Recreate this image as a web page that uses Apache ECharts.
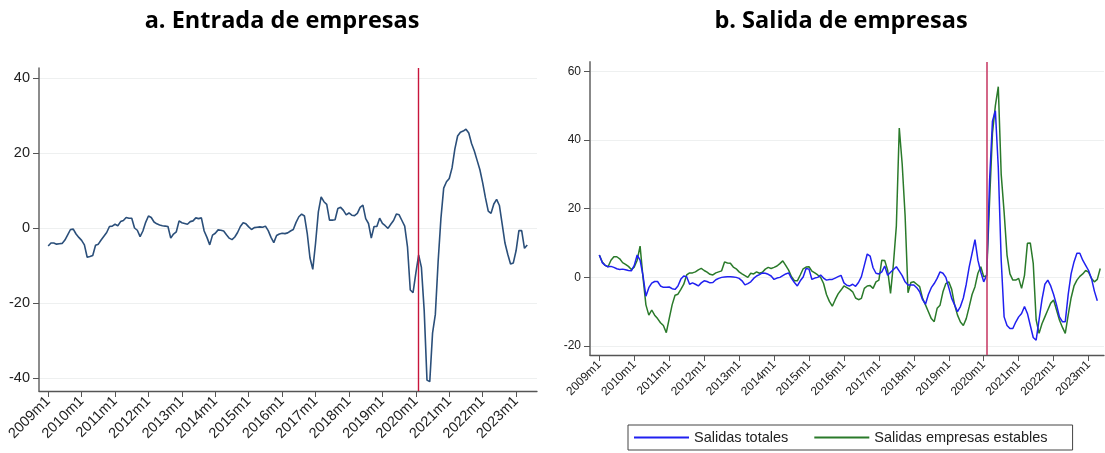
<!DOCTYPE html>
<html>
<head>
<meta charset="utf-8">
<script src="https://cdn.jsdelivr.net/npm/echarts@6/dist/echarts.min.js"></script>
<style>
  html, body { margin: 0; padding: 0; background: #fff; }
  #chart { width: 1105px; height: 453px; }
</style>
</head>
<body>
<div id="chart"></div>
<script>
// monthly series, index 0 = 2009m1
var entrada = [
  -4.8,-4.0,-4.0,-4.3,-4.2,-4.1,-3.2,-1.8,-0.4,-0.3,-1.6,-2.5,
  -3.3,-4.5,-7.8,-7.6,-7.3,-4.6,-4.3,-3.2,-2.2,-1.2,0.4,0.5,
  1.0,0.6,1.7,2.0,2.8,2.6,2.6,0.0,-0.6,-2.3,-0.8,1.5,
  3.2,2.8,1.6,1.1,0.8,0.6,0.5,0.4,-2.7,-1.6,-1.0,1.9,
  1.4,1.2,1.0,1.7,1.9,2.7,2.5,2.7,-0.8,-2.5,-4.5,-1.9,
  -1.4,-0.5,-0.6,-0.8,-1.8,-2.7,-3.1,-2.4,-1.2,0.4,1.4,1.1,
  0.3,-0.4,0.1,0.2,0.3,0.2,0.5,-0.7,-2.5,-3.9,-2.0,-1.6,
  -1.4,-1.5,-1.3,-0.8,-0.4,1.5,3.0,3.7,3.2,-1.4,-8.0,-11.0,
  -4.0,4.3,8.3,7.0,6.3,2.1,2.1,2.2,5.2,5.5,4.7,3.5,
  4.0,3.4,3.3,3.9,5.5,6.1,2.5,1.2,-2.7,0.4,0.4,2.6,
  1.2,0.6,-0.1,1.0,2.0,3.7,3.5,2.0,0.5,-5.0,-16.5,-17.2,
  -12.0,-7.2,-10.5,-22.0,-40.5,-40.9,-28.0,-23.0,-9.0,2.5,10.6,12.3,
  13.2,16.0,21.0,24.5,25.5,25.8,26.3,25.3,22.5,20.5,18.0,15.5,
  12.0,8.0,4.5,3.9,6.4,7.6,6.0,1.0,-4.0,-7.0,-9.6,-9.3,
  -6.0,-0.7,-0.7,-5.4,-4.5
];

var salidasTotales = [
  6.5,4.3,3.5,3.1,3.2,2.9,2.5,2.3,2.4,2.2,2.0,1.9,
  3.5,6.5,5.0,0.5,-5.5,-3.0,-1.7,-1.2,-1.2,-2.5,-2.9,-2.9,
  -2.8,-3.3,-3.5,-2.5,-0.5,0.4,0.2,-2.0,-1.6,-2.0,-2.5,-1.6,
  -1.0,-1.2,-1.6,-1.5,-0.7,-0.3,0.0,0.1,0.2,0.2,0.1,0.0,
  -0.3,-1.0,-2.2,-1.8,-1.3,-0.3,0.4,0.8,1.3,1.2,0.9,0.4,
  -0.6,-0.2,0.0,0.5,1.0,1.3,-0.3,-1.5,-2.5,-1.0,0.1,2.6,
  2.4,-0.6,-0.2,0.0,0.7,-0.2,-0.8,-0.6,-0.6,-0.2,0.2,0.6,
  -1.6,-2.3,-2.5,-2.0,-2.6,-1.5,0.2,3.5,6.8,6.2,2.8,1.2,
  1.0,1.6,3.3,0.6,1.5,2.3,3.1,1.8,0.5,-1.3,-2.2,-2.2,
  -2.2,-3.0,-4.2,-6.5,-7.8,-5.0,-3.0,-1.8,-0.3,1.6,1.2,0.0,
  -3.0,-6.1,-8.0,-10.0,-8.5,-6.0,-2.0,3.0,7.0,11.0,5.0,1.5,
  -1.3,0.6,28.0,45.5,48.5,32.0,5.0,-11.5,-14.0,-14.9,-14.9,-13.0,
  -11.5,-10.5,-8.5,-10.5,-14.0,-17.5,-18.3,-12.4,-6.5,-2.0,-0.8,-2.5,
  -5.0,-8.0,-11.5,-12.9,-12.9,-5.0,1.0,4.5,7.0,7.0,5.0,3.5,
  2.0,-0.3,-4.0,-6.8
];

var salidasEstables = [
  6.5,4.5,3.5,3.1,5.0,6.0,6.0,5.4,4.3,3.8,3.2,2.3,
  3.0,5.0,9.1,0.0,-8.0,-11.0,-9.5,-11.0,-12.0,-13.2,-14.0,-16.1,
  -12.0,-8.0,-5.2,-4.9,-3.5,-2.0,0.7,1.3,1.3,1.6,2.2,2.6,
  2.0,1.5,0.9,0.7,1.3,1.6,1.9,4.5,4.2,4.1,3.0,2.5,
  1.6,1.0,0.5,0.0,1.2,1.0,1.6,1.2,1.5,2.4,2.9,2.6,
  2.9,3.3,4.0,4.8,3.5,2.1,0.2,-1.0,-1.0,0.7,2.5,3.0,
  3.1,1.8,1.3,0.7,0.0,-1.8,-5.0,-7.0,-8.4,-6.5,-4.8,-3.7,
  -2.5,-3.0,-3.5,-4.2,-6.0,-6.5,-6.1,-3.2,-2.5,-2.4,-3.2,-1.3,
  -0.8,5.0,4.9,2.1,-4.7,4.0,15.0,43.5,33.0,18.0,-4.5,-1.5,
  -1.3,-2.0,-2.7,-6.1,-8.0,-10.0,-12.0,-12.9,-9.0,-8.1,-4.2,-1.8,
  -1.3,-3.5,-8.0,-11.0,-13.0,-14.0,-12.0,-8.6,-5.0,-2.7,1.2,3.1,
  0.2,0.5,22.0,42.0,50.0,55.5,30.0,19.0,6.5,1.0,-0.8,-0.8,
  -0.3,-3.2,0.6,9.9,10.0,4.1,-12.4,-16.3,-13.5,-11.5,-9.5,-7.5,
  -6.6,-9.5,-12.4,-14.5,-16.3,-11.0,-6.0,-2.5,-0.8,0.3,1.0,2.0,
  1.5,-0.3,-1.3,-0.6,2.6
];

var yearTicks = [0, 12, 24, 36, 48, 60, 72, 84, 96, 108, 120, 132, 144, 156, 168];
var ticksA = [-40, -20, 0, 20, 40];
var ticksB = [-20, 0, 20, 40, 60];
var choque = 133; // 2020m2

function pares(arr) {
  return arr.map(function (v, i) { return [i, v]; });
}
function etiquetaMes(v) {
  return (2009 + Math.round(v / 12)) + 'm1';
}

var chart = echarts.init(document.getElementById('chart'));

function ejeX(grid, min, max, fs) {
  return {
    type: 'value', gridIndex: grid, min: min, max: max,
    axisLine: { show: true, onZero: false, lineStyle: { color: '#555', width: 1.3 } },
    axisTick: { show: true, length: 6, customValues: yearTicks, lineStyle: { color: '#555' } },
    axisLabel: {
      customValues: yearTicks, rotate: 45, margin: 8, formatter: etiquetaMes,
      color: '#222', fontSize: fs, fontFamily: 'Liberation Sans'
    },
    splitLine: { show: false }
  };
}
function ejeY(grid, min, max, ticks, fs, col, w) {
  return {
    type: 'value', gridIndex: grid, min: min, max: max,
    axisLine: { show: true, onZero: false, lineStyle: { color: col, width: w } },
    axisTick: { show: true, length: 6, customValues: ticks, lineStyle: { color: '#555' } },
    axisLabel: {
      customValues: ticks, margin: 9, color: '#222', fontSize: fs, fontFamily: 'Liberation Sans'
    },
    splitLine: { show: true, lineStyle: { color: '#eef0f0', width: 1.2 } }
  };
}

var option = {
  animation: false,
  title: [
    { text: 'a. Entrada de empresas', left: 277, top: 4, textAlign: 'center',
      textStyle: { fontFamily: 'Open Sans', fontWeight: 'bold', fontSize: 23.5, color: '#000' } },
    { text: 'b. Salida de empresas', left: 836, top: 4, textAlign: 'center',
      textStyle: { fontFamily: 'Open Sans', fontWeight: 'bold', fontSize: 23.5, color: '#000' } }
  ],
  grid: [
    { left: 39, top: 68, width: 498, height: 323 },
    { left: 590, top: 62, width: 514, height: 293 }
  ],
  legend: {
    data: ['Salidas totales', 'Salidas empresas estables'],
    left: 628, top: 425,
    itemWidth: 55, itemHeight: 2, itemGap: 26,
    icon: 'rect',
    padding: [5, 25, 5, 6],
    borderColor: '#444', borderWidth: 1,
    textStyle: { fontFamily: 'Liberation Sans', fontSize: 14.5, color: '#222' }
  },
  xAxis: [
    ejeX(0, -3.3, 175.5, 14.5),
    ejeX(1, -3.2, 173.3, 12)
  ],
  yAxis: [
    ejeY(0, -43.4, 42.6, ticksA, 14.5, '#666', 1.5),
    ejeY(1, -22.6, 62.7, ticksB, 12, '#888', 2)
  ],
  series: [
    {
      name: 'Entrada', type: 'line', xAxisIndex: 0, yAxisIndex: 0,
      data: pares(entrada), showSymbol: false,
      lineStyle: { color: '#2b4f7a', width: 1.6 }, itemStyle: { color: '#2b4f7a' },
      markLine: {
        silent: true, symbol: ['none', 'none'], label: { show: false },
        lineStyle: { color: '#c8153c', width: 1.4, type: 'solid' },
        data: [{ xAxis: choque }]
      }
    },
    {
      name: 'Salidas empresas estables', type: 'line', xAxisIndex: 1, yAxisIndex: 1,
      data: pares(salidasEstables), showSymbol: false,
      lineStyle: { color: '#2a7a2a', width: 1.5 }, itemStyle: { color: '#2a7a2a' }
    },
    {
      name: 'Salidas totales', type: 'line', xAxisIndex: 1, yAxisIndex: 1,
      data: pares(salidasTotales), showSymbol: false,
      lineStyle: { color: '#2020f0', width: 1.5 }, itemStyle: { color: '#2020f0' },
      markLine: {
        silent: true, symbol: ['none', 'none'], label: { show: false },
        lineStyle: { color: '#c9416a', width: 1.6, type: 'solid' },
        data: [{ xAxis: choque }]
      }
    }
  ]
};

chart.setOption(option);
</script>
</body>
</html>
